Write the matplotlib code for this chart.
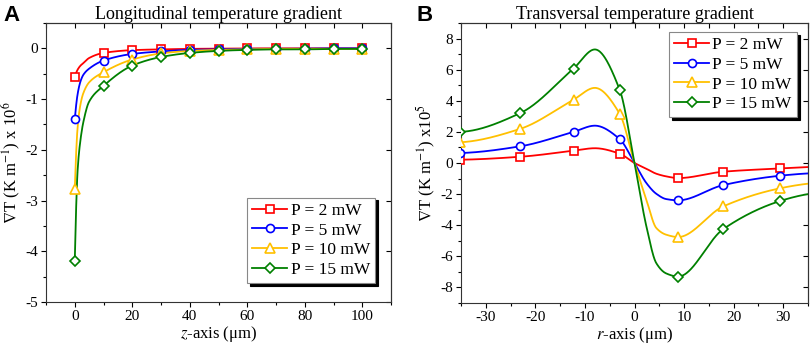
import numpy as np
import matplotlib
matplotlib.use("Agg")
import matplotlib.pyplot as plt
from matplotlib.ticker import MultipleLocator
from matplotlib.lines import Line2D

plt.rcParams['font.family'] = ['Liberation Serif', 'DejaVu Serif']
plt.rcParams['mathtext.fontset'] = 'stix'
plt.rcParams['axes.unicode_minus'] = False

# ---------------- Data: panel A (longitudinal) ----------------
z_line = [0, 1, 2, 3, 5, 10, 20, 30, 40, 50, 60, 70, 80, 90, 100]
A_marker_idx = [0, 5, 6, 7, 8, 9, 10, 11, 12, 13, 14]
A_p2 = [-0.56, -0.42, -0.34, -0.29, -0.19, -0.09, -0.035, -0.02, -0.01, -0.005, 0.0, 0.0, 0.0, 0.0, 0.0]
A_p5 = [-1.40, -0.90, -0.65, -0.52, -0.40, -0.24, -0.11, -0.06, -0.03, -0.02, -0.01, -0.01, -0.005, 0.0, 0.0]
A_p10 = [-2.78, -1.55, -1.10, -0.88, -0.67, -0.47, -0.22, -0.10, -0.05, -0.03, -0.02, -0.01, -0.01, -0.01, -0.01]
A_p15 = [-4.20, -2.40, -1.80, -1.45, -1.05, -0.74, -0.34, -0.17, -0.09, -0.05, -0.03, -0.02, -0.02, -0.01, -0.01]

# ---------------- Data: panel B (transversal) ----------------
r_line = [-35.2, -23.1, -12.3, -8.0, -3.0, 0.0, 2.4, 4.4, 6.4, 8.8, 17.9, 29.3, 35.0]
B_marker_idx = [0, 1, 2, 4, 9, 10, 11]
B_p2 = [0.21, 0.40, 0.79, 0.95, 0.60, 0.0, -0.37, -0.69, -0.86, -0.97, -0.56, -0.35, -0.26]
B_p5 = [0.64, 1.07, 2.00, 2.40, 1.54, 0.0, -1.29, -1.98, -2.32, -2.40, -1.42, -0.82, -0.67]
B_p10 = [1.33, 2.19, 4.07, 4.83, 3.17, 0.0, -2.36, -4.18, -4.61, -4.76, -2.79, -1.63, -1.33]
B_p15 = [2.00, 3.20, 6.07, 7.30, 4.72, 0.0, -4.08, -6.44, -7.10, -7.30, -4.25, -2.45, -2.00]

labels = ['P = 2 mW', 'P = 5 mW', 'P = 10 mW', 'P = 15 mW']
colors = ['#FF0000', '#0000FF', '#FFC000', '#008000']
markers = ['s', 'o', '^', 'D']
msizes = [5.6, 5.8, 7.2, 5.6]


def pchip(x, y, xs):
    x = np.asarray(x, float); y = np.asarray(y, float)
    n = len(x)
    h = np.diff(x); d = np.diff(y) / h
    m = np.zeros(n)
    for k in range(1, n - 1):
        if d[k - 1] * d[k] <= 0:
            m[k] = 0.0
        else:
            w1 = 2 * h[k] + h[k - 1]
            w2 = h[k] + 2 * h[k - 1]
            m[k] = (w1 + w2) / (w1 / d[k - 1] + w2 / d[k])

    def endslope(h0, h1, d0, d1):
        s = ((2 * h0 + h1) * d0 - h0 * d1) / (h0 + h1)
        if np.sign(s) != np.sign(d0):
            s = 0.0
        elif np.sign(d0) != np.sign(d1) and abs(s) > abs(3 * d0):
            s = 3 * d0
        return s
    m[0] = endslope(h[0], h[1], d[0], d[1])
    m[-1] = endslope(h[-1], h[-2], d[-1], d[-2])
    xs = np.asarray(xs, float)
    idx = np.clip(np.searchsorted(x, xs) - 1, 0, n - 2)
    t = (xs - x[idx]) / h[idx]
    h00 = 2 * t**3 - 3 * t**2 + 1
    h10 = t**3 - 2 * t**2 + t
    h01 = -2 * t**3 + 3 * t**2
    h11 = t**3 - t**2
    return h00 * y[idx] + h10 * h[idx] * m[idx] + h01 * y[idx + 1] + h11 * h[idx] * m[idx + 1]


fig = plt.figure(figsize=(8.1, 3.48), dpi=100)
axA = fig.add_axes([46 / 810, 1 - 302 / 348, 345 / 810, 279 / 348])
axB = fig.add_axes([461 / 810, 1 - 303 / 348, 347 / 810, 280 / 348])

TICK = 11


def style(ax, xmaj, xmin, ymaj, ymin):
    ax.xaxis.set_major_locator(MultipleLocator(xmaj))
    ax.xaxis.set_minor_locator(MultipleLocator(xmin))
    ax.yaxis.set_major_locator(MultipleLocator(ymaj))
    ax.yaxis.set_minor_locator(MultipleLocator(ymin))
    ax.tick_params(which='major', direction='out', length=3.5, width=0.8, labelsize=TICK, pad=2)
    ax.tick_params(which='minor', direction='out', length=2, width=0.8)
    for s in ax.spines.values():
        s.set_linewidth(0.8)
        s.set_color('#333333')
    sx = ax.secondary_xaxis('top')
    sx.xaxis.set_major_locator(MultipleLocator(xmaj))
    sx.xaxis.set_minor_locator(MultipleLocator(xmin))
    sx.tick_params(which='major', direction='in', length=3.5, width=0.8, labeltop=False)
    sx.tick_params(which='minor', direction='in', length=3.5, width=0.8)
    sy = ax.secondary_yaxis('right')
    sy.yaxis.set_major_locator(MultipleLocator(ymaj))
    sy.yaxis.set_minor_locator(MultipleLocator(ymin))
    sy.tick_params(which='major', direction='in', length=3.5, width=0.8, labelright=False)
    sy.tick_params(which='minor', direction='in', length=0, width=0.8)
    for s in list(sx.spines.values()) + list(sy.spines.values()):
        s.set_linewidth(0.8)
        s.set_color('#333333')


def draw(ax, x, series, midx):
    xs = np.linspace(min(x), max(x), 600)
    for ys, c, mk, ms in zip(series, colors, markers, msizes):
        ax.plot(xs, pchip(x, ys, xs), color=c, lw=1.3, zorder=2)
        xm = [x[i] for i in midx]
        ym = [ys[i] for i in midx]
        ax.plot(xm, ym, marker=mk, ms=ms, mfc='white', mec=c, mew=1.2,
                linestyle='none', zorder=3, clip_on=True)


# Panel A
draw(axA, z_line, [A_p2, A_p5, A_p10, A_p15], A_marker_idx)
axA.set_xlim(-10, 110)
axA.set_ylim(-5, 0.5)
style(axA, 20, 10, 1, 0.5)
axA.set_title('Longitudinal temperature gradient', fontsize=13, pad=3)
axA.set_xlabel('$z$-axis (μm)', fontsize=12, labelpad=1)
axA.set_ylabel('$\\nabla$T (K m$^{-1}$) x 10$^{6}$', fontsize=12, labelpad=2)

# Panel B
draw(axB, r_line, [B_p2, B_p5, B_p10, B_p15], B_marker_idx)
axB.set_xlim(-35, 35)
axB.set_ylim(-9, 9)
style(axB, 10, 5, 2, 1)
axB.set_title('Transversal temperature gradient', fontsize=13, pad=3)
axB.set_xlabel('$r$-axis (μm)', fontsize=12, labelpad=1)
axB.set_ylabel('$\\nabla$T (K m$^{-1}$) x10$^{5}$', fontsize=12, labelpad=2)

leg_handles = [Line2D([], [], color=c, lw=1.3, marker=mk, ms=ms, mfc='white', mec=c, mew=1.2)
               for c, mk, ms in zip(colors, markers, msizes)]
legkw = dict(fontsize=12.5, frameon=True, fancybox=False, framealpha=1, edgecolor='#888888',
             handlelength=2.0, handletextpad=0.2, labelspacing=0.2, borderpad=0.3,
             borderaxespad=0, shadow={'color': 'black', 'alpha': 1})
lA = axA.legend(leg_handles, labels, loc='lower right', bbox_to_anchor=(0.954, 0.068), **legkw)
lA.get_frame().set_linewidth(0.8)
lB = axB.legend(leg_handles, labels, loc='upper right', bbox_to_anchor=(0.968, 0.968), **legkw)
lB.get_frame().set_linewidth(0.8)

fig.text(3 / 810, 1 - 5 / 348, 'A', fontsize=16, fontweight='bold', family='Liberation Sans', va='top', ha='left')
fig.text(417 / 810, 1 - 5 / 348, 'B', fontsize=16, fontweight='bold', family='Liberation Sans', va='top', ha='left')

fig.savefig('out.png', dpi=100)
